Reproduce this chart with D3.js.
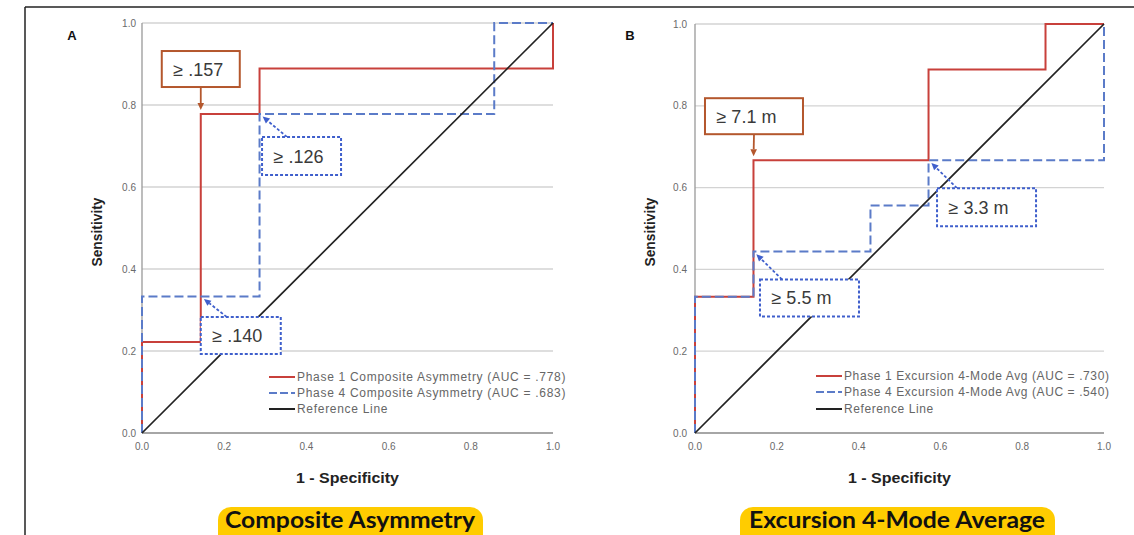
<!DOCTYPE html>
<html><head><meta charset="utf-8">
<script src="https://cdn.jsdelivr.net/npm/d3@7"></script>
<style>body{margin:0;background:#fff;} svg{display:block;}</style>
</head><body><svg id="c" width="1134" height="535"></svg>
<script>
// ---------- DATA ----------
const tickValues = [0, 0.2, 0.4, 0.6, 0.8, 1.0];
const tickLabels = ["0.0", "0.2", "0.4", "0.6", "0.8", "1.0"];
const panelLetters = ["A", "B"];
const panelTitles = ["Composite Asymmetry", "Excursion 4-Mode Average"];
const xAxisTitle = "1 - Specificity";
const yAxisTitle = "Sensitivity";

// Panel A ROC vertices (1 - specificity, sensitivity)
const aPhase1Fpr = [0, 0, 0.143, 0.143, 0.286, 0.286, 1.0, 1.0];
const aPhase1Tpr = [0, 0.222, 0.222, 0.778, 0.778, 0.889, 0.889, 1.0];
const aPhase4Fpr = [0, 0, 0.286, 0.286, 0.857, 0.857, 1.0];
const aPhase4Tpr = [0, 0.333, 0.333, 0.778, 0.778, 1.0, 1.0];
// Panel B ROC vertices
const bPhase1Fpr = [0, 0, 0.143, 0.143, 0.571, 0.571, 0.857, 0.857, 1.0];
const bPhase1Tpr = [0, 0.333, 0.333, 0.667, 0.667, 0.889, 0.889, 1.0, 1.0];
const bPhase4Fpr = [0, 0, 0.143, 0.143, 0.429, 0.429, 0.571, 0.571, 1.0, 1.0];
const bPhase4Tpr = [0, 0.333, 0.333, 0.444, 0.444, 0.556, 0.556, 0.667, 0.667, 1.0];
// Reference line
const refFpr = [0, 1];
const refTpr = [0, 1];

const aLegend = ["Phase 1 Composite Asymmetry (AUC = .778)", "Phase 4 Composite Asymmetry (AUC = .683)", "Reference Line"];
const bLegend = ["Phase 1 Excursion 4-Mode Avg (AUC = .730)", "Phase 4 Excursion 4-Mode Avg (AUC = .540)", "Reference Line"];

// Cut-off annotations: label, point on curve, which series (1 or 4)
const aCutLabels = ["≥ .157", "≥ .126", "≥ .140"];
const aCutFpr = [0.143, 0.286, 0.143];
const aCutTpr = [0.778, 0.778, 0.333];
const aCutSeries = [1, 4, 4];
const bCutLabels = ["≥ 7.1 m", "≥ 3.3 m", "≥ 5.5 m"];
const bCutFpr = [0.143, 0.571, 0.143];
const bCutTpr = [0.667, 0.667, 0.444];
const bCutSeries = [1, 4, 4];

// ---------- LAYOUT / STYLE ----------
const RED = "#c8403b", BLUE = "#5b7bc8", BROWN = "#b4572d", ABLUE = "#3f5fcc";
const svg = d3.select("#c");

// outer frame
svg.append("line").attr("x1", 25).attr("y1", 7).attr("x2", 1134).attr("y2", 7).attr("stroke", "#222").attr("stroke-width", 1.5);
svg.append("line").attr("x1", 25).attr("y1", 7).attr("x2", 25).attr("y2", 535).attr("stroke", "#222").attr("stroke-width", 1.5);

const panels = [
  { xr: [142, 553], yr: [433, 23], letter: [72, 40], ytickEnd: 136, legX: 269, legY: [377, 393, 409],
    title: { cx: 350, x0: 218, x1: 483, tw: 250 },
    p1: [aPhase1Fpr, aPhase1Tpr], p4: [aPhase4Fpr, aPhase4Tpr], legend: aLegend,
    cuts: [aCutLabels, aCutFpr, aCutTpr, aCutSeries],
    cutLayout: [ {dx: -39, dy: -63, w: 78, h: 36, ax: 39}, {dx: 2.5, dy: 23, w: 79, h: 38, ax: 25}, {dx: 0, dy: 20.5, w: 80, h: 37, ax: 26} ] },
  { xr: [695, 1104], yr: [433, 24], letter: [630, 40], ytickEnd: 687, legX: 816, legY: [376, 392, 409],
    title: { cx: 897, x0: 740, x1: 1055, tw: 296 },
    p1: [bPhase1Fpr, bPhase1Tpr], p4: [bPhase4Fpr, bPhase4Tpr], legend: bLegend,
    cuts: [bCutLabels, bCutFpr, bCutTpr, bCutSeries],
    cutLayout: [ {dx: -48.5, dy: -62, w: 98, h: 36, ax: 49}, {dx: 8.5, dy: 28, w: 99, h: 38, ax: 20}, {dx: 6.5, dy: 28, w: 99, h: 37, ax: 22} ] }
];

panels.forEach((P, pi) => {
  const x = d3.scaleLinear().domain([0, 1]).range(P.xr);
  const y = d3.scaleLinear().domain([0, 1]).range(P.yr);
  const g = svg.append("g");

  // gridlines
  g.selectAll(".grid").data(tickValues.slice(1)).enter().append("line")
    .attr("x1", x(0)).attr("x2", x(1)).attr("y1", d => y(d)).attr("y2", d => y(d))
    .attr("stroke", "#d3d3d3").attr("stroke-width", 1.3);

  // axes lines
  g.append("line").attr("x1", x(0)).attr("x2", x(0)).attr("y1", y(0)).attr("y2", y(1)).attr("stroke", "#999").attr("stroke-width", 1.3);
  g.append("line").attr("x1", x(0)).attr("x2", x(1)).attr("y1", y(0)).attr("y2", y(0)).attr("stroke", "#888").attr("stroke-width", 1.5);

  // tick labels
  g.selectAll(".yt").data(tickValues).enter().append("text")
    .attr("x", P.ytickEnd).attr("y", d => y(d) + 3.5).attr("text-anchor", "end")
    .attr("font-family", "Liberation Sans, Arial, sans-serif").attr("font-size", 10).attr("fill", "#6a6a6a")
    .text((d, i) => tickLabels[i]);
  g.selectAll(".xt").data(tickValues).enter().append("text")
    .attr("x", d => x(d)).attr("y", 450).attr("text-anchor", "middle")
    .attr("font-family", "Liberation Sans, Arial, sans-serif").attr("font-size", 10).attr("fill", "#6a6a6a")
    .text((d, i) => tickLabels[i]);

  // axis titles
  g.append("text").attr("x", (P.xr[0] + P.xr[1]) / 2).attr("y", 483).attr("text-anchor", "middle")
    .attr("font-family", "Liberation Sans, Arial, sans-serif").attr("font-weight", "bold").attr("font-size", 14)
    .attr("fill", "#222").attr("textLength", 103).attr("lengthAdjust", "spacingAndGlyphs").text(xAxisTitle);
  const ycx = P.xr[0] - 40, ycy = 232;
  g.append("text").attr("transform", `translate(${ycx},${ycy}) rotate(-90)`).attr("text-anchor", "middle")
    .attr("font-family", "Liberation Sans, Arial, sans-serif").attr("font-weight", "bold").attr("font-size", 14)
    .attr("fill", "#222").attr("textLength", 69).attr("lengthAdjust", "spacingAndGlyphs").text(yAxisTitle);

  // panel letter
  g.append("text").attr("x", P.letter[0]).attr("y", P.letter[1]).attr("text-anchor", "middle")
    .attr("font-family", "Liberation Sans, Arial, sans-serif").attr("font-weight", "bold").attr("font-size", 13)
    .attr("fill", "#111").text(panelLetters[pi]);

  // curves
  const line = d3.line().x(d => x(d[0])).y(d => y(d[1]));
  const pts = (arr) => arr[0].map((v, i) => [v, arr[1][i]]);
  g.append("path").attr("d", line(pts(P.p1))).attr("fill", "none").attr("stroke", RED).attr("stroke-width", 2);
  g.append("path").attr("d", line(pts(P.p4))).attr("fill", "none").attr("stroke", BLUE).attr("stroke-width", 2).attr("stroke-dasharray", "9,4");
  g.append("path").attr("d", line(pts([refFpr, refTpr]))).attr("fill", "none").attr("stroke", "#222").attr("stroke-width", 1.7);

  // legend
  const legStyles = [{ c: RED, d: null }, { c: BLUE, d: "8,3" }, { c: "#222", d: null }];
  P.legend.forEach((t, i) => {
    const ly = P.legY[i];
    const l = g.append("line").attr("x1", P.legX).attr("x2", P.legX + 26).attr("y1", ly).attr("y2", ly)
      .attr("stroke", legStyles[i].c).attr("stroke-width", 2);
    if (legStyles[i].d) l.attr("stroke-dasharray", legStyles[i].d);
    g.append("text").attr("x", P.legX + 28).attr("y", ly + 4)
      .attr("font-family", "Liberation Sans, Arial, sans-serif").attr("font-size", 12).attr("fill", "#666")
      .attr("letter-spacing", pi === 0 ? 0.7 : 0.6).text(t);
  });

  // cutoff annotations
  const [labs, fprs, tprs, ser] = P.cuts;
  labs.forEach((lab, i) => {
    const L = P.cutLayout[i];
    const tx = x(fprs[i]), ty = y(tprs[i]);
    const bx = tx + L.dx, by = ty + L.dy;
    const isRed = ser[i] === 1;
    const col = isRed ? BROWN : ABLUE;
    const dash = isRed ? null : "3,2";
    // arrow
    const sx = bx + L.ax, sy = L.dy < 0 ? by + L.h : by;
    const vx = sx - tx, vy = sy - ty, len = Math.hypot(vx, vy);
    const ux = vx / len, uy = vy / len;
    const tipx = tx + ux * 4, tipy = ty + uy * 4;
    const hx = tipx + ux * 7, hy = tipy + uy * 7;
    const a = g.append("line").attr("x1", sx).attr("y1", sy).attr("x2", hx).attr("y2", hy)
      .attr("stroke", col).attr("stroke-width", 1.8);
    if (dash) a.attr("stroke-dasharray", dash);
    const px = -uy, py = ux;
    g.append("path").attr("d", `M${tipx},${tipy}L${hx + px * 3.3},${hy + py * 3.3}L${hx - px * 3.3},${hy - py * 3.3}Z`)
      .attr("fill", col);
    // box
    const r = g.append("rect").attr("x", bx).attr("y", by).attr("width", L.w).attr("height", L.h)
      .attr("fill", "#fff").attr("stroke", col).attr("stroke-width", 2);
    if (dash) r.attr("stroke-dasharray", dash);
    g.append("text").attr("x", bx + 11.5).attr("y", by + L.h / 2 + 6.5)
      .attr("font-family", "Liberation Sans, Arial, sans-serif").attr("font-size", 18).attr("fill", "#3a3a3a")
      .text(lab);
  });

  // bottom title with yellow pill
  const T = P.title;
  svg.append("rect").attr("x", T.x0).attr("y", 507).attr("width", T.x1 - T.x0).attr("height", 45)
    .attr("rx", 13).attr("ry", 13).attr("fill", "#ffcc00");
  svg.append("text").attr("x", T.cx).attr("y", 528).attr("text-anchor", "middle")
    .attr("font-family", "Lato, Open Sans, sans-serif").attr("font-weight", "bold").attr("font-size", 23)
    .attr("fill", "#111").attr("textLength", T.tw).attr("lengthAdjust", "spacingAndGlyphs").text(panelTitles[pi]);
});
</script>
</body></html>
